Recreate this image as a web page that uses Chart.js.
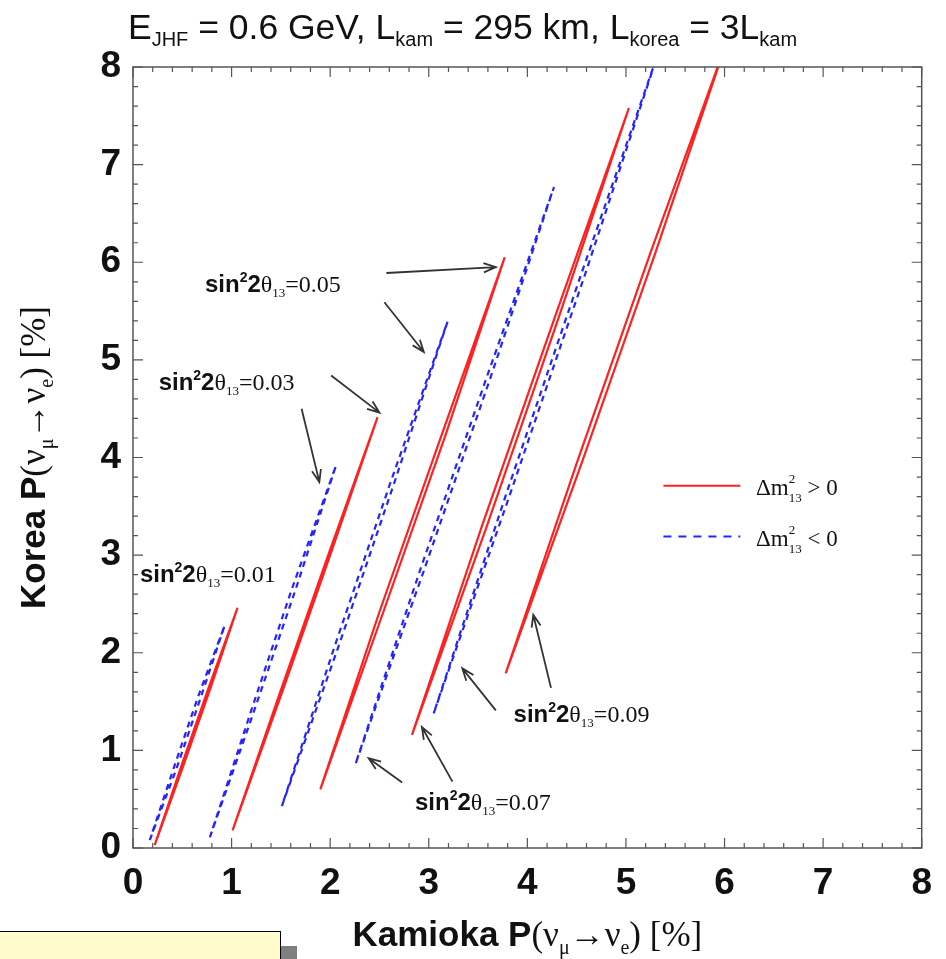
<!DOCTYPE html>
<html>
<head>
<meta charset="utf-8">
<title>Kamioka vs Korea appearance probability</title>
<script src="https://cdn.jsdelivr.net/npm/chart.js@4"></script>
<style>
  html, body { margin: 0; padding: 0; background: #fff; }
  #wrap { position: relative; width: 946px; height: 959px; overflow: hidden; }
  #chart { position: absolute; left: 0; top: 0; }
  #shadow { position: absolute; left: 281px; top: 946px; width: 16px; height: 20px; background: #7f7f7f; }
  #note { position: absolute; left: -2px; top: 931px; width: 281px; height: 40px; background: #fffbcc; border: 1px solid #000; }
</style>
</head>
<body>
<div id="wrap">
  <canvas id="chart" width="946" height="959"></canvas>
  <div id="shadow"></div>
  <div id="note"></div>
</div>
<script>
'use strict';

// sin^2 2theta13 values, one red and one blue curve each
const thetaLabels = ['0.01', '0.03', '0.05', '0.07', '0.09']
const tickValues = [0, 1, 2, 3, 4, 5, 6, 7, 8]

// Δm²13 > 0 : thin closed loops (bottom, right side, top, left side, bottom)
const redKamioka = [
    [0.22, 0.51, 0.79, 1.06, 0.77, 0.49, 0.22],
    [1.01, 1.51, 2.00, 2.48, 1.98, 1.49, 1.01],
    [1.90, 2.54, 3.17, 3.77, 3.13, 2.50, 1.90],
    [2.83, 3.59, 4.32, 5.03, 4.28, 3.54, 2.83],
    [3.78, 4.55, 5.30, 6.02, 5.25, 4.50, 3.78]
]
const redKorea = [
    [0.03, 0.84, 1.65, 2.46, 1.65, 0.84, 0.03],
    [0.18, 1.59, 3.00, 4.41, 3.00, 1.59, 0.18],
    [0.60, 2.42, 4.23, 6.05, 4.23, 2.42, 0.60],
    [1.16, 3.30, 5.44, 7.58, 5.44, 3.30, 1.16],
    [1.79, 3.94, 6.10, 8.25, 6.10, 3.94, 1.79]
]

// Δm²13 < 0
const blueKamioka = [
    [0.17, 0.44, 0.69, 0.93, 0.66, 0.41, 0.17],
    [0.78, 1.22, 1.65, 2.06, 1.61, 1.19, 0.78],
    [1.51, 2.09, 2.65, 3.19, 2.61, 2.05, 1.51],
    [2.26, 2.95, 3.62, 4.27, 3.58, 2.91, 2.26],
    [3.05, 3.83, 4.59, 5.33, 4.55, 3.79, 3.05]
]
const blueKorea = [
    [0.08, 0.81, 1.55, 2.28, 1.55, 0.81, 0.08],
    [0.11, 1.38, 2.65, 3.92, 2.65, 1.38, 0.11],
    [0.43, 2.08, 3.74, 5.39, 3.74, 2.08, 0.43],
    [0.87, 2.84, 4.80, 6.77, 4.80, 2.84, 0.87],
    [1.38, 3.64, 5.89, 8.15, 5.89, 3.64, 1.38]
]

const RED = '#ff2020'
const BLUE = '#2424ff'
const SANS = '"Liberation Sans", Arial, Helvetica, sans-serif'
const SERIF = '"Liberation Serif", "Times New Roman", serif'

// label anchors (kamioka, korea) and arrows [x1, y1, x2, y2] in data units
const annotations = [
    { label: '0.01', at: [0.07, 2.72], arrows: [] },
    { label: '0.03', at: [0.26, 4.69], arrows: [[2.01, 4.84, 2.50, 4.46], [1.71, 4.50, 1.89, 3.75]] },
    { label: '0.05', at: [0.73, 5.70], arrows: [[2.57, 5.89, 3.68, 5.95], [2.55, 5.59, 2.95, 5.08]] },
    { label: '0.07', at: [2.86, 0.39], arrows: [[2.73, 0.67, 2.39, 0.92], [3.24, 0.68, 2.93, 1.24]] },
    { label: '0.09', at: [3.86, 1.29], arrows: [[3.68, 1.41, 3.34, 1.84], [4.24, 1.64, 4.06, 2.39]] }
]

const toPoints = (xs, ys) => xs.map((x, i) => ({ x: x, y: ys[i] }))

const datasets = []
thetaLabels.forEach((lbl, i) => {
    datasets.push({
        label: 'dm2>0 ' + lbl,
        data: toPoints(redKamioka[i], redKorea[i]),
        showLine: true,
        borderColor: RED,
        borderWidth: 2.2,
        pointRadius: 0,
        tension: 0,
        fill: false
    })
    datasets.push({
        label: 'dm2<0 ' + lbl,
        data: toPoints(blueKamioka[i], blueKorea[i]),
        showLine: true,
        borderColor: BLUE,
        borderWidth: 2.2,
        borderDash: [6, 5],
        pointRadius: 0,
        tension: 0,
        fill: false
    })
})

const drawParts = (ctx, x, y, parts, align) => {
    let total = 0
    parts.forEach(p => {
        ctx.font = p.font
        p.w = ctx.measureText(p.text).width
        if (!p.stay) total += p.w
    })
    let cx = align === 'center' ? x - total / 2 : x
    parts.forEach(p => {
        ctx.font = p.font
        ctx.fillText(p.text, cx, y + (p.dy || 0))
        if (!p.stay) cx += p.w
    })
}

const drawArrow = (ctx, x1, y1, x2, y2) => {
    const a = Math.atan2(y2 - y1, x2 - x1)
    const len = 13, spread = 0.36
    ctx.beginPath()
    ctx.moveTo(x1, y1)
    ctx.lineTo(x2, y2)
    ctx.moveTo(x2 - len * Math.cos(a - spread), y2 - len * Math.sin(a - spread))
    ctx.lineTo(x2, y2)
    ctx.lineTo(x2 - len * Math.cos(a + spread), y2 - len * Math.sin(a + spread))
    ctx.stroke()
}

const decorations = {
    id: 'decorations',
    afterDraw(chart) {
        const ctx = chart.ctx
        const area = chart.chartArea
        const xs = chart.scales.x, ys = chart.scales.y
        ctx.save()

        // frame and inward ticks
        ctx.strokeStyle = '#555'
        ctx.lineWidth = 1.5
        ctx.strokeRect(area.left, area.top, area.right - area.left, area.bottom - area.top)
        ctx.lineWidth = 1.2
        ctx.beginPath()
        for (let i = 0; i <= 40; i++) {
            const len = i % 5 === 0 ? 10 : 5
            const px = xs.getPixelForValue(i * 0.2)
            const py = ys.getPixelForValue(i * 0.2)
            ctx.moveTo(px, area.bottom); ctx.lineTo(px, area.bottom - len)
            ctx.moveTo(px, area.top); ctx.lineTo(px, area.top + len)
            ctx.moveTo(area.left, py); ctx.lineTo(area.left + len, py)
            ctx.moveTo(area.right, py); ctx.lineTo(area.right - len, py)
        }
        ctx.stroke()

        // title
        ctx.fillStyle = '#111'
        ctx.textBaseline = 'alphabetic'
        ctx.textAlign = 'left'
        const big = '35.5px ' + SANS, sub = '20px ' + SANS
        drawParts(ctx, 128, 39, [
            { text: 'E', font: big }, { text: 'JHF', font: sub, dy: 7 },
            { text: ' = 0.6 GeV, L', font: big }, { text: 'kam', font: sub, dy: 7 },
            { text: ' = 295 km, L', font: big }, { text: 'korea', font: sub, dy: 7 },
            { text: ' = 3L', font: big }, { text: 'kam', font: sub, dy: 7 }
        ], 'left')

        // axis titles
        const axisParts = word => [
            { text: word + ' P', font: 'bold 35px ' + SANS },
            { text: '(ν', font: '35px ' + SERIF },
            { text: 'μ', font: '20px ' + SERIF, dy: 8 },
            { text: '→ν', font: '35px ' + SERIF },
            { text: 'e', font: '20px ' + SERIF, dy: 8 },
            { text: ') [%]', font: '35px ' + SERIF }
        ]
        drawParts(ctx, (area.left + area.right) / 2, 946, axisParts('Kamioka'), 'center')
        ctx.save()
        ctx.translate(45, (area.top + area.bottom) / 2)
        ctx.rotate(-Math.PI / 2)
        drawParts(ctx, 0, 0, axisParts('Korea'), 'center')
        ctx.restore()

        // sin^2 2theta13 labels with arrows
        ctx.strokeStyle = '#333'
        ctx.lineWidth = 1.8
        annotations.forEach(a => {
            drawParts(ctx, xs.getPixelForValue(a.at[0]), ys.getPixelForValue(a.at[1]), [
                { text: 'sin', font: 'bold 24px ' + SANS },
                { text: '2', font: 'bold 14px ' + SANS, dy: -10 },
                { text: '2', font: 'bold 24px ' + SANS },
                { text: 'θ', font: '24px ' + SERIF },
                { text: '13', font: '13px ' + SERIF, dy: 5 },
                { text: '=' + a.label, font: '24px ' + SERIF }
            ], 'left')
            a.arrows.forEach(r => drawArrow(ctx,
                xs.getPixelForValue(r[0]), ys.getPixelForValue(r[1]),
                xs.getPixelForValue(r[2]), ys.getPixelForValue(r[3])))
        })

        // legend
        const legendRows = [
            { color: RED, dash: [], y: 3.71, sign: ' > 0' },
            { color: BLUE, dash: [8, 7], y: 3.19, sign: ' < 0' }
        ]
        legendRows.forEach(row => {
            const py = ys.getPixelForValue(row.y)
            ctx.strokeStyle = row.color
            ctx.lineWidth = 2
            ctx.setLineDash(row.dash)
            ctx.beginPath()
            ctx.moveTo(xs.getPixelForValue(5.38), py)
            ctx.lineTo(xs.getPixelForValue(6.16), py)
            ctx.stroke()
            ctx.setLineDash([])
            drawParts(ctx, xs.getPixelForValue(6.32), py + 9, [
                { text: 'Δm', font: '23px ' + SERIF },
                { text: '2', font: '13px ' + SERIF, dy: -12, stay: true },
                { text: '13', font: '13px ' + SERIF, dy: 7 },
                { text: row.sign, font: '23px ' + SERIF }
            ], 'left')
        })
        ctx.restore()
    }
}

const tickFont = { family: SANS, size: 37, weight: 'bold' }

new Chart('chart', {
    type: 'scatter',
    data: { datasets: datasets },
    options: {
        responsive: false,
        animation: false,
        devicePixelRatio: 1,
        layout: { padding: { top: 67, right: 22, left: 0, bottom: 0 } },
        plugins: {
            legend: { display: false },
            tooltip: { enabled: false }
        },
        scales: {
            x: {
                type: 'linear',
                min: 0,
                max: 8,
                afterBuildTicks: scale => { scale.ticks = tickValues.map(v => ({ value: v })) },
                afterFit: scale => { scale.height = 111 },
                ticks: { font: tickFont, color: '#111', padding: 14, maxRotation: 0 },
                grid: { display: false, drawTicks: false },
                border: { display: false }
            },
            y: {
                type: 'linear',
                min: 0,
                max: 8,
                afterBuildTicks: scale => { scale.ticks = tickValues.map(v => ({ value: v })) },
                afterFit: scale => { scale.width = 133 },
                ticks: { font: tickFont, color: '#111', padding: 12 },
                grid: { display: false, drawTicks: false },
                border: { display: false }
            }
        }
    },
    plugins: [decorations]
})
</script>
</body>
</html>
